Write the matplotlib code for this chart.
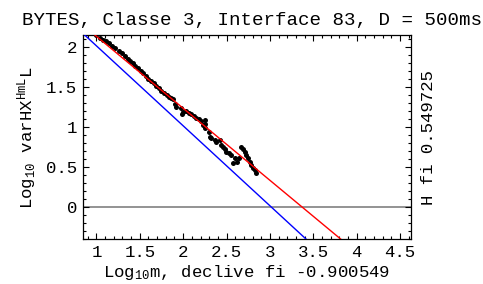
import matplotlib
matplotlib.use("Agg")
import matplotlib.pyplot as plt
import numpy as np
from matplotlib.ticker import MultipleLocator, FuncFormatter

plt.rcParams['font.family'] = ['Liberation Mono', 'DejaVu Sans']
plt.rcParams['mathtext.fontset'] = 'custom'
plt.rcParams['mathtext.rm'] = 'Liberation Mono'
plt.rcParams['mathtext.it'] = 'Liberation Mono'
plt.rcParams['mathtext.tt'] = 'Liberation Mono'

title = "BYTES, Classe 3, Interface 83, D = 500ms"
xlabel = r"Log$_{10}$m, declive fi -0.900549"
ylabel = r"Log$_{10}$ varHX$^{\rm HmL}$L"
rlabel = "H fi 0.549725"

slope_fit = -0.900549
icpt_fit = 3.03
slope_ref = -1.0
icpt_ref = 3.01

log_m = [0.96, 1.00, 1.044, 1.075, 1.109, 1.140, 1.178, 1.216, 1.255, 1.293, 1.331,
         1.36, 1.39, 1.42, 1.45, 1.48, 1.51, 1.54, 1.57, 1.60, 1.63, 1.66, 1.69,
         1.72, 1.75, 1.78, 1.81, 1.84,
         1.865, 1.884, 1.903, 1.923, 1.980, 1.999, 1.987, 2.038, 2.065, 2.095,
         2.125, 2.153, 2.18, 2.211, 2.249, 2.249, 2.298,
         2.229, 2.249, 2.306, 2.326, 2.364, 2.383, 2.421, 2.441, 2.459, 2.48,
         2.498, 2.53, 2.556, 2.594, 2.620, 2.574, 2.643,
         2.671, 2.689, 2.709, 2.728, 2.747, 2.766, 2.786, 2.804, 2.824, 2.843]
log_var = [2.18, 2.14, 2.109, 2.088, 2.068, 2.046, 2.013, 1.984, 1.95, 1.918, 1.88,
           1.85, 1.82, 1.79, 1.76, 1.73, 1.70, 1.665, 1.635, 1.60, 1.57, 1.54, 1.51,
           1.48, 1.45, 1.42, 1.395, 1.37,
           1.363, 1.346, 1.28, 1.25, 1.23, 1.18, 1.159, 1.196, 1.175, 1.155,
           1.135, 1.113, 1.09, 1.071, 1.084, 1.03, 0.9375,
           1.021, 0.98, 0.875, 0.855, 0.834, 0.8125, 0.834, 0.771, 0.75, 0.72,
           0.6875, 0.665, 0.646, 0.605, 0.5625, 0.55, 0.605,
           0.75, 0.717, 0.6875, 0.646, 0.605, 0.5625, 0.521, 0.4875, 0.459, 0.417]

xlim = (0.841, 4.62)
ylim = (-0.41, 2.146)

fig = plt.figure(figsize=(4.83, 2.84), dpi=100)
ax = fig.add_axes([0.171, 0.157, 0.679, 0.72])

xs = np.array(xlim)
ax.axhline(0, color='#808080', lw=1.2, zorder=1)
ax.plot(log_m, log_var, 'o', color='black', ms=3.6, mec='none', zorder=2)
ax.plot(xs, icpt_fit + slope_fit * xs, color='red', lw=1.0, zorder=3)
ax.plot(xs, icpt_ref + slope_ref * xs, color='blue', lw=1.0, zorder=3)

ax.set_xlim(*xlim)
ax.set_ylim(*ylim)

def fmt(v, pos):
    s = f"{v:.1f}"
    if s.endswith(".0"):
        s = s[:-2]
    if s == "-0":
        s = "0"
    return s

ax.xaxis.set_major_locator(MultipleLocator(0.5))
ax.xaxis.set_minor_locator(MultipleLocator(0.1))
ax.yaxis.set_major_locator(MultipleLocator(0.5))
ax.yaxis.set_minor_locator(MultipleLocator(0.1))
ax.xaxis.set_major_formatter(FuncFormatter(fmt))
ax.yaxis.set_major_formatter(FuncFormatter(fmt))
ax.tick_params(which='both', direction='in', top=True, right=True, labelsize=12.5, width=0.8)
ax.tick_params(which='major', length=4, pad=4)
ax.tick_params(which='minor', length=2)
for sp in ax.spines.values():
    sp.set_linewidth(0.9)

ax.set_xlabel(xlabel, fontsize=12.5, labelpad=2)
ax.set_ylabel(ylabel, fontsize=12.5, labelpad=5)
fig.text(0.888, 0.5 + 0.017, rlabel, rotation=90, fontsize=12.5, ha='center', va='center')
fig.text(0.522, 0.912, title, fontsize=13.8, ha='center', va='baseline')

fig.savefig("out.png", dpi=100)
